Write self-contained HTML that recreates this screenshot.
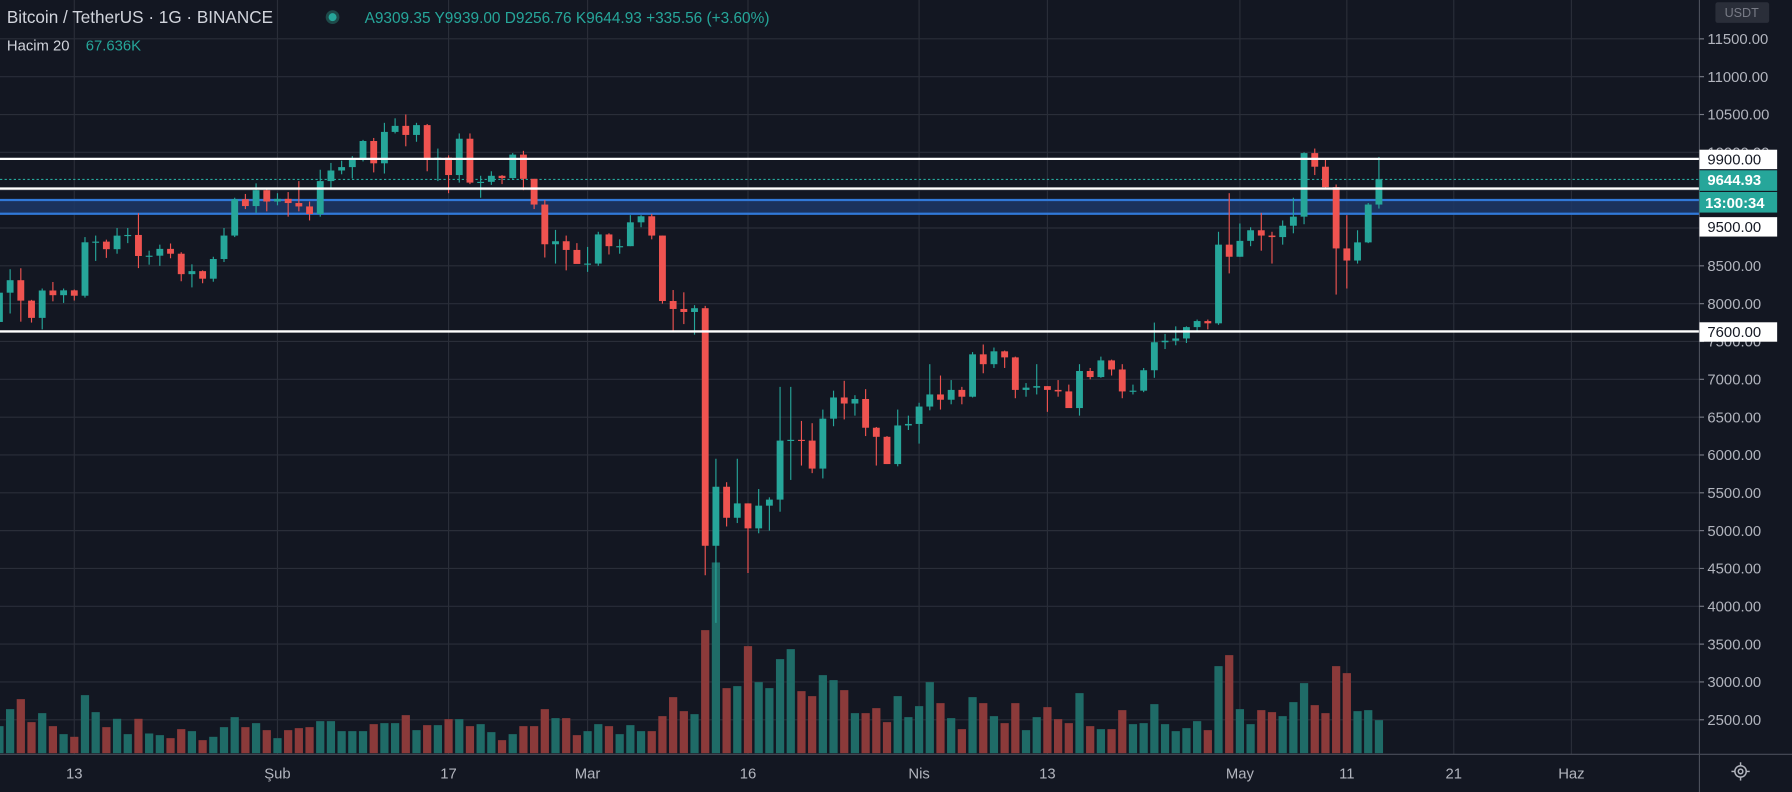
<!DOCTYPE html>
<html><head><meta charset="utf-8"><style>
html,body{margin:0;padding:0;background:#131722;overflow:hidden}
svg{display:block}
text{font-family:"Liberation Sans","DejaVu Sans",sans-serif}
</style></head><body>
<svg id="chart" width="1792" height="792" viewBox="0 0 1568 693" preserveAspectRatio="none" xmlns="http://www.w3.org/2000/svg">
<rect x="0" y="0" width="1568" height="693" fill="#131722"/>
<g id="grid"></g>
<g id="vol"></g>
<g id="lines">
<rect x="0" y="175" width="1487" height="12" fill="#1d3766" opacity="0.85"/>
<line x1="0" x2="1487" y1="175" y2="175" stroke="#3179d8" stroke-width="2"/>
<line x1="0" x2="1487" y1="187" y2="187" stroke="#3179d8" stroke-width="2"/>
<line x1="0" x2="1487" y1="157" y2="157" stroke="#26a69a" stroke-width="1" stroke-dasharray="2,2"/>
</g>
<g id="candles"></g>
<g id="levels">
<line x1="0" x2="1487" y1="139" y2="139" stroke="#fff" stroke-width="2"/>
<line x1="0" x2="1487" y1="165" y2="165" stroke="#fff" stroke-width="2"/>
<line x1="0" x2="1487" y1="290" y2="290" stroke="#fff" stroke-width="2"/>
</g>
<rect x="1487" y="0" width="81" height="693" fill="#131722"/>
<rect x="0" y="660" width="1487" height="33" fill="#131722"/>
<line x1="1487" x2="1487" y1="0" y2="693" stroke="#4a4e59" stroke-width="1"/>
<line x1="0" x2="1568" y1="660" y2="660" stroke="#4a4e59" stroke-width="1"/>
<g id="yticks"></g>
<g id="xticks"></g>
<g>
<rect x="1487" y="131" width="68" height="17" fill="#fff"/>
<text x="1494" y="144" font-size="13" fill="#131722">9900.00</text>
<rect x="1487" y="149" width="68" height="18" fill="#26a69a"/>
<text x="1494" y="162" font-size="13" font-weight="bold" fill="#fff">9644.93</text>
<rect x="1487" y="168" width="68" height="18" fill="#26a69a"/>
<text x="1492" y="182" font-size="13" font-weight="bold" fill="#fff">13:00:34</text>
<rect x="1487" y="190" width="68" height="17" fill="#fff"/>
<text x="1494" y="203" font-size="13" fill="#131722">9500.00</text>
<rect x="1487" y="282" width="68" height="17" fill="#fff"/>
<text x="1494" y="295" font-size="13" fill="#131722">7600.00</text>
</g>
<rect x="1501" y="2" width="47" height="18" rx="2" fill="#2a2e39"/>
<text x="1524" y="15" font-size="11" fill="#787b86" text-anchor="middle">USDT</text>
<g transform="translate(1523,675)" stroke="#b2b5be" fill="none" stroke-width="1.3">
<circle r="5"/><circle r="2"/>
<line x1="0" y1="-8" x2="0" y2="-5"/><line x1="0" y1="5" x2="0" y2="8"/><line x1="-8" y1="0" x2="-5" y2="0"/><line x1="5" y1="0" x2="8" y2="0"/>
</g>
<g>
<text x="6" y="20" font-size="15" fill="#d1d4dc">Bitcoin / TetherUS · 1G · BINANCE</text>
<circle cx="291" cy="15" r="6" fill="#1e4a4a"/>
<circle cx="291" cy="15" r="3.5" fill="#26a69a"/>
<text x="319" y="20" font-size="13.5" fill="#26a69a">A9309.35  Y9939.00  D9256.76  K9644.93  +335.56 (+3.60%)</text>
<text x="6" y="44" font-size="13" fill="#d1d4dc">Hacim 20</text>
<text x="75" y="44" font-size="13" fill="#26a69a">67.636K</text>
</g>
</svg>
<script>
const opens=[7758,8145,8310,8040,7812,8174,8112,8176,8105,8811,8820,8720,8899,8908,8630,8634,8724,8660,8390,8430,8330,8590,8900,9380,9290,9500,
9350,9385,9330,9285,9185,9620,9760,9805,9900,10150,9855,10270,10350,10230,10360,9900,9930,9700,10180,9600,9610,9690,9660,9970,9650,9310,8785,8825,8710,
8525,8530,8915,8760,8760,9075,9155,8900,8035,7930,7890,7940,4800,5580,5170,5360,5030,5330,5410,6190,6200,6190,5820,6480,6760,6680,6740,6360,6240,5880,6390,
6410,6640,6800,6730,6860,6770,7330,7200,7370,7290,6860,6890,6910,6860,6840,6620,7110,7030,7250,7130,6840,6850,7120,7490,7510,7540,7690,7770,7740,8780,
8620,8830,8970,8900,8880,9030,9150,9990,9810,9540,8730,8570,8810,9310];
const highs=[8213,8455,8468,8050,8200,8286,8200,8186,8880,8900,8846,9000,9000,9195,8700,8780,8795,8680,8520,8440,8620,9000,9400,9450,9590,9520,
9460,9475,9620,9350,9770,9860,9890,9950,10165,10190,10390,10450,10500,10390,10375,10050,9960,10250,10250,9690,9750,9700,9990,10020,9650,9370,8975,8900,8800,
8750,8950,8930,8850,9170,9170,9185,8900,8180,8150,7980,7970,5950,5640,5950,5360,5550,5440,6900,6900,6450,6420,6600,6850,6980,6790,6870,6370,6250,6600,6520,
6690,7200,7050,6990,6900,7360,7460,7420,7380,7300,6950,7200,6910,6990,6930,7200,7150,7300,7260,7200,6930,7150,7750,7600,7700,7700,7790,7790,8950,9460,
9060,9010,9200,8950,9100,9400,10000,10050,9910,9575,9170,8970,9330,9939];
const lows=[7655,7870,7762,7750,7660,8031,8010,8041,8080,8565,8605,8660,8800,8470,8515,8500,8600,8296,8215,8270,8290,8550,8880,9250,9200,9220,
9300,9150,9220,9100,9150,9530,9710,9655,9880,9735,9720,10250,10080,10140,9750,9620,9460,9600,9580,9400,9570,9580,9650,9500,9250,8610,8530,8440,8560,
8420,8500,8650,8660,8760,9010,8850,8000,7630,7730,7590,4410,3780,5055,5100,4440,4965,5000,5250,5670,5860,5760,5690,6380,6470,6520,6250,5860,5880,5850,6330,
6150,6590,6600,6670,6670,6760,7080,7150,7150,6750,6770,6800,6570,6770,6640,6520,7000,7020,7050,6750,6800,6830,7020,7400,7450,7480,7640,7660,7720,8400,
8620,8760,8700,8530,8780,8930,9050,9700,9520,8120,8200,8530,8800,9257];
const closes=[8145,8310,8040,7812,8174,8112,8176,8105,8811,8820,8720,8899,8908,8630,8634,8724,8660,8390,8430,8330,8590,8900,9380,9290,9500,9350,
9385,9330,9285,9185,9620,9760,9805,9900,10150,9855,10270,10350,10230,10360,9900,9930,9700,10180,9600,9610,9690,9660,9970,9650,9310,8785,8825,8710,8525,
8530,8915,8760,8760,9075,9155,8900,8035,7930,7890,7940,4800,5580,5170,5360,5030,5330,5410,6190,6200,6190,5820,6480,6760,6680,6740,6360,6240,5880,6390,6410,
6640,6800,6730,6860,6770,7330,7200,7370,7290,6860,6890,6910,6860,6840,6620,7110,7030,7250,7130,6840,6850,7120,7490,7510,7540,7690,7770,7740,8780,8620,
8830,8970,8900,8880,9030,9150,9990,9810,9540,8730,8570,8810,9310,9645];
const volumes=[81,132,162,93,120,81,57,49,174,123,78,103,57,103,59,54,45,72,66,39,49,78,108,78,90,69,
45,69,75,78,96,96,66,66,66,87,90,90,114,69,84,84,102,102,81,87,63,39,57,81,81,132,105,105,54,
66,87,81,57,84,66,66,111,168,126,117,369,572,195,201,321,213,195,282,312,186,171,234,219,189,120,120,135,93,171,108,
141,213,150,105,72,168,150,111,90,150,69,108,138,102,90,180,81,72,72,129,87,90,147,87,66,75,96,69,261,294,
132,87,129,123,111,153,210,144,120,261,240,126,129,99];
const yTickValues=[11500,11000,10500,10000,9000,8500,8000,7500,7000,6500,6000,5500,5000,4500,4000,3500,3000,2500];
const xTickLabels=["13","Şub","17","Mar","16","Nis","13","May","11","21","Haz"];
const xTickIndex=[7,26,42,55,70,86,98,116,126,136,147];

const NS="http://www.w3.org/2000/svg";
function xScale(i){return 65+(i-7)*9.357;}
function yScale(p){return 34+(11500-p)*0.0662;}
function volH(v){return v*0.2917;}
const VBASE=659;
function mk(tag,attrs,parent){const e=document.createElementNS(NS,tag);for(const k in attrs)e.setAttribute(k,attrs[k]);parent.appendChild(e);return e;}

const grid=document.getElementById('grid');
for(let p=2500;p<=11500;p+=500){
  const l=mk('line',{x1:0,x2:1487,y1:yScale(p),y2:yScale(p),stroke:'#2a2e39','stroke-width':1},grid);
  
  
}
xTickIndex.forEach(i=>{
  const l=mk('line',{x1:xScale(i),x2:xScale(i),y1:0,y2:660,stroke:'#2a2e39','stroke-width':1},grid);
  
  
});

const vol=document.getElementById('vol');
volumes.forEach((v,i)=>{
  const up=closes[i]>=opens[i];
  const h=volH(v);
  const r=mk('rect',{x:xScale(i)-3.6,y:VBASE-h,width:7.2,height:h,fill:up?'#1f6b67':'#8b3a3a'},vol);
  
  
});

const cg=document.getElementById('candles');
opens.forEach((o,i)=>{
  const c=closes[i],up=c>=o,col=up?'#26a69a':'#ef5350',x=xScale(i);
  const g=mk('g',{},cg);
  
  
  mk('line',{x1:x,x2:x,y1:yScale(highs[i]),y2:yScale(lows[i]),stroke:col,'stroke-width':1},g);
  const top=yScale(Math.max(o,c)),bot=yScale(Math.min(o,c));
  mk('rect',{x:x-3,y:top,width:6,height:Math.max(1,bot-top),fill:col},g);
});

const yt=document.getElementById('yticks');
yTickValues.forEach(p=>{
  mk('line',{x1:1487,x2:1491,y1:yScale(p),y2:yScale(p),stroke:'#787b86'},yt);
  const t=mk('text',{x:1494,y:yScale(p)+4.5,'font-size':13,fill:'#b2b5be'},yt);
  
  
  t.textContent=p.toFixed(2);
});
const xt=document.getElementById('xticks');
xTickLabels.forEach((s,k)=>{
  const t=mk('text',{x:xScale(xTickIndex[k]),y:681,'font-size':13,fill:'#b2b5be','text-anchor':'middle'},xt);
  
  
  t.textContent=s;
});
</script>
</body></html>
